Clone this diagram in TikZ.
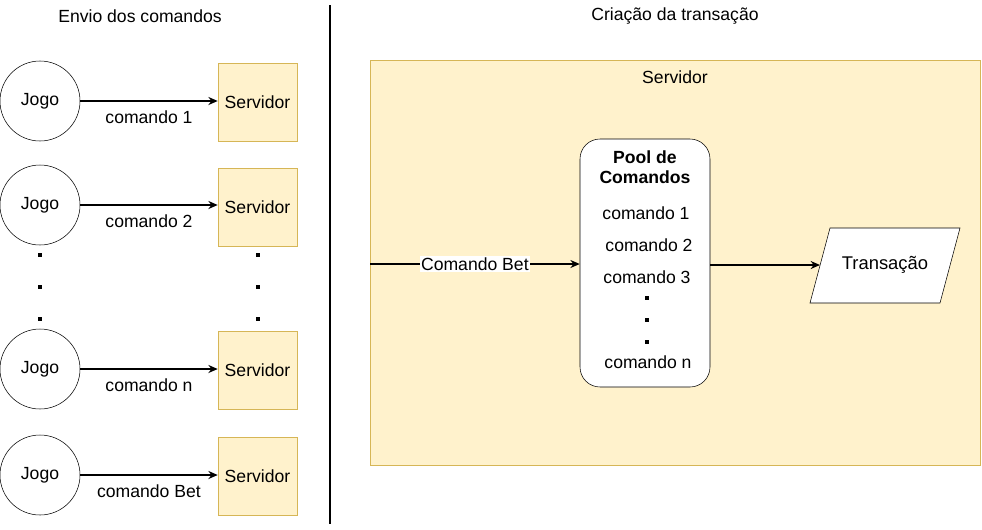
\documentclass[tikz,border=0pt]{standalone}
\usepackage{fontspec}
\setmainfont{Liberation Sans}
\usepackage{xcolor}
\usetikzlibrary{arrows.meta}
\definecolor{amarelo}{HTML}{FFF2CC}
\definecolor{ouro}{HTML}{D6B656}

\begin{document}
\begin{tikzpicture}[x=0.75pt,y=-0.75pt,
    every node/.style={font=\fontsize{13.2}{15}\selectfont},
    jogo/.style={draw, circle, minimum size=60pt, inner sep=0pt},
    serv/.style={draw=ouro, fill=amarelo, minimum width=59.25pt, minimum height=58.5pt, inner sep=0pt},
    ponto/.style={fill, rectangle, minimum size=2.4pt, inner sep=0pt},
    seta/.style={-{Stealth[length=7pt,width=6pt]}, line width=1.3pt}]
                \useasboundingbox (0,0) rectangle (982,529);
                % titulos e separador
                \node (tit1) at (140,16) {Envio dos comandos};
                \node (tit2) at (675,16) {Criação da transação};
                \draw[line width=2.2pt] (330,5) -- (330,524);
                % envio dos comandos
                \node[jogo] (j1) at (40,101) {Jogo};
                \node[serv] (s1) at (257.5,102) {Servidor};
                \draw[seta] (j1.east) -- (j1.east -| s1.west) node[midway, below=3pt]{comando 1};
                \node[jogo] (j2) at (40,205) {Jogo};
                \node[serv] (s2) at (257.5,207) {Servidor};
                \draw[seta] (j2.east) -- (j2.east -| s2.west) node[midway, below=3pt]{comando 2};
                \node[jogo] (j3) at (40,369) {Jogo};
                \node[serv] (s3) at (257.5,370) {Servidor};
                \draw[seta] (j3.east) -- (j3.east -| s3.west) node[midway, below=3pt]{comando n};
                \node[jogo] (j4) at (40,475) {Jogo};
                \node[serv] (s4) at (257.5,476) {Servidor};
                \draw[seta] (j4.east) -- (j4.east -| s4.west) node[midway, below=3pt]{comando Bet};
                \node[ponto] (pj1) at (40,255) {};
                \node[ponto] (pj2) at (40,287) {};
                \node[ponto] (pj3) at (40,319) {};
                \node[ponto] (ps1) at (258,255) {};
                \node[ponto] (ps2) at (258,287) {};
                \node[ponto] (ps3) at (258,319) {};
                % criacao da transacao
                \draw[draw=ouro, fill=amarelo] (370,60) rectangle (980,465);
                \node (servtit) at (675,77) {Servidor};
                \coordinate (entrada) at (370,264);
                \node[draw, fill=white, rounded corners=15pt, minimum width=97.5pt, minimum height=186pt] (pool) at (645,263) {};
                \node[align=center] (pooltit) at (645,167) {\textbf{Pool de}\\\textbf{Comandos}};
                \node (c1) at (646,213) {comando 1};
                \node (c2) at (649,245) {comando 2};
                \node (c3) at (647,277) {comando 3};
                \node[ponto] (pp1) at (647,298) {};
                \node[ponto] (pp2) at (647,320) {};
                \node[ponto] (pp3) at (647,342) {};
                \node (cn) at (648,362) {comando n};
                \draw[seta] (entrada) -- (pool.west |- entrada) node[midway, fill=white, inner sep=1pt]{Comando Bet};
                \filldraw[fill=white, draw=black] (810,303) -- (830,228) -- (960,228) -- (940,303) -- cycle;
                \coordinate (trw) at (820,265);
                \node[font=\fontsize{13.8}{15}\selectfont] (tr) at (885,265) {Transação};
                \draw[seta] (pool.east |- trw) -- (trw);
            \end{tikzpicture}
\end{document}
